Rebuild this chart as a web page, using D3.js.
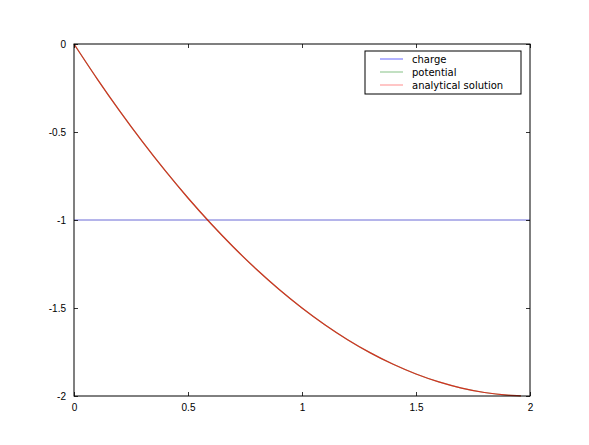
<!DOCTYPE html>
<html>
<head>
<meta charset="utf-8">
<script src="https://cdn.jsdelivr.net/npm/d3@7"></script>
<style>
  body { margin: 0; background: #fff; }
  svg { display: block; font-family: "DejaVu Sans", sans-serif; }
</style>
</head>
<body>
<div class="chart"></div>
<script>
// values
const xs        = [0, 0.1, 0.2, 0.3, 0.4, 0.5, 0.6, 0.7, 0.8, 0.9, 1.0, 1.1, 1.2, 1.3, 1.4, 1.5, 1.6, 1.7, 1.8, 1.9, 1.96];
const potential = [0, -0.195, -0.38, -0.555, -0.72, -0.875, -1.02, -1.155, -1.28, -1.395, -1.5, -1.595, -1.68, -1.755, -1.82, -1.875, -1.92, -1.955, -1.98, -1.995, -1.999];
const analytical = potential.slice();
const chargeX   = [0, 2];
const charge    = [-1, -1];
const xTicks    = [0, 0.5, 1, 1.5, 2];
const yTicks    = [0, -0.5, -1, -1.5, -2];
const legendLabels = ["charge", "potential", "analytical solution"];

const W = 589, H = 445;
const margin = { top: 44, right: 59, bottom: 49, left: 74 };
const width = W - margin.left - margin.right;
const height = H - margin.top - margin.bottom;

const svg = d3.select('.chart').append('svg')
    .attr('width', W)
    .attr('height', H)
    .append('g')
    .attr('transform', `translate(${margin.left},${margin.top})`);

const x = d3.scaleLinear().domain([0, 2]).range([0, width]);
const y = d3.scaleLinear().domain([-2, 0]).range([height, 0]);

const line = d3.line()
    .x(d => x(d[0]))
    .y(d => y(d[1]));

// charge
svg.append('path')
    .datum(chargeX.map((v, i) => [v, charge[i]]))
    .attr('fill', 'none')
    .attr('stroke', '#3838c8')
    .attr('stroke-opacity', 0.75)
    .attr('stroke-width', 1)
    .attr('d', line);

// potential
svg.append('path')
    .datum(xs.map((v, i) => [v, potential[i]]))
    .attr('fill', 'none')
    .attr('stroke', '#008000')
    .attr('stroke-opacity', 0.5)
    .attr('stroke-width', 1.2)
    .attr('d', line.curve(d3.curveMonotoneX));

// analytical solution
svg.append('path')
    .datum(xs.map((v, i) => [v, analytical[i]]))
    .attr('fill', 'none')
    .attr('stroke', '#ee0000')
    .attr('stroke-opacity', 0.75)
    .attr('stroke-width', 1.2)
    .attr('d', line.curve(d3.curveMonotoneX));

// axes: inward ticks on all four sides, old matplotlib look
const tickStyle = g => {
    g.select('.domain').remove();
    g.selectAll('line').attr('stroke', '#000').attr('stroke-width', 0.8);
    g.selectAll('text').attr('font-size', 10).attr('fill', '#000');
};
const plain = d => String(d);

svg.append('g')
    .attr('transform', `translate(0,${height})`)
    .call(d3.axisBottom(x).tickValues(xTicks).tickFormat(plain).tickSizeInner(-4).tickPadding(8))
    .call(tickStyle);

svg.append('g')
    .call(d3.axisTop(x).tickValues(xTicks).tickFormat('').tickSizeInner(-4))
    .call(tickStyle);

svg.append('g')
    .call(d3.axisLeft(y).tickValues(yTicks).tickFormat(plain).tickSizeInner(-4).tickPadding(8))
    .call(tickStyle);

svg.append('g')
    .attr('transform', `translate(${width},0)`)
    .call(d3.axisRight(y).tickValues(yTicks).tickFormat('').tickSizeInner(-4))
    .call(tickStyle);

svg.append('rect')
    .attr('width', width)
    .attr('height', height)
    .attr('fill', 'none')
    .attr('stroke', '#000')
    .attr('stroke-width', 1);

// legend
const legendColors = ['#8080ff', '#99cc99', '#ffa0a0'];
const legend = svg.append('g').attr('transform', `translate(${291},${7})`);
legend.append('rect')
    .attr('width', 156)
    .attr('height', 43)
    .attr('fill', '#fff')
    .attr('stroke', '#000')
    .attr('stroke-width', 1);

legendLabels.forEach((lbl, i) => {
    const ly = 8 + i * 13;
    legend.append('line')
        .attr('x1', 15).attr('x2', 38)
        .attr('y1', ly).attr('y2', ly)
        .attr('stroke', legendColors[i])
        .attr('stroke-width', 1.2);
    legend.append('text')
        .attr('x', 47).attr('y', ly)
        .attr('dy', '0.35em')
        .attr('font-size', 10)
        .text(lbl);
});
</script>
</body>
</html>
